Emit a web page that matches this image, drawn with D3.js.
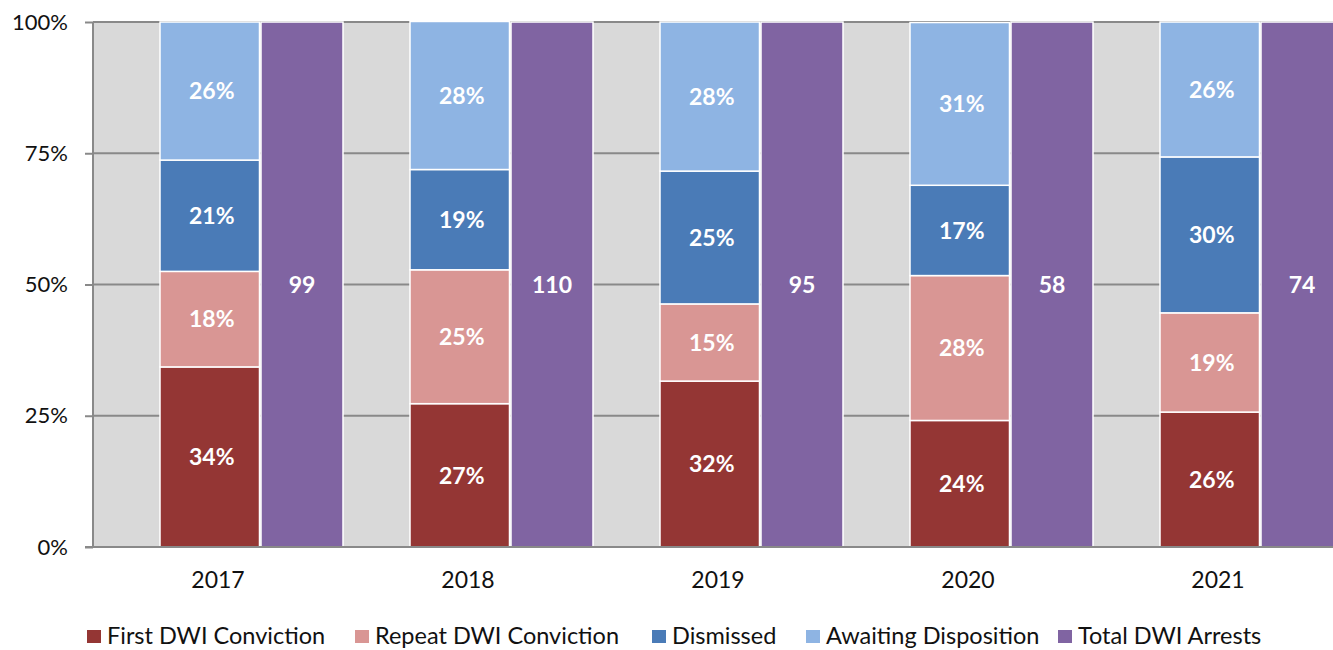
<!DOCTYPE html>
<html>
<head>
<meta charset="utf-8">
<script src="https://cdn.jsdelivr.net/npm/d3@7"></script>
<style>
  body { margin: 0; background: #fff; }
  text { font-family: Lato, "Open Sans", sans-serif; }
</style>
</head>
<body>
<div id="chart"></div>
<script>
const width = 1333
const height = 650
const margin = { top: 22, bottom: 103, left: 93, right: -10 }

// Datos (porcentajes)
const years = ["2017", "2018", "2019", "2020", "2021"]
const series = ["First DWI Conviction", "Repeat DWI Conviction", "Dismissed", "Awaiting Disposition"]
const firstDWI = [34.3, 27.3, 31.6, 24.1, 25.7]
const repeatDWI = [18.2, 25.5, 14.7, 27.6, 18.9]
const dismissed = [21.2, 19.1, 25.3, 17.2, 29.7]
const awaiting = [26.3, 28.2, 28.4, 31.0, 25.7]
const totalArrests = [99, 110, 95, 58, 74]
const yTicks = [0, 25, 50, 75, 100]

const colors = ["#943634", "#d99694", "#4a7bb7", "#8eb4e3"]
const totalColor = "#8064a2"
const legendNames = [...series, "Total DWI Arrests"]
const legendColors = [...colors, totalColor]

const table = years.map((y, i) => ({
  year: y,
  "First DWI Conviction": firstDWI[i],
  "Repeat DWI Conviction": repeatDWI[i],
  "Dismissed": dismissed[i],
  "Awaiting Disposition": awaiting[i],
  total: totalArrests[i]
}))

const svg = d3.select("div#chart")
  .append("svg")
  .attr("width", width)
  .attr("height", height)

const innerW = width - margin.left - margin.right
const innerH = height - margin.top - margin.bottom

const g = svg.append("g")
  .attr("transform", `translate(${margin.left}, ${margin.top})`)

// Escalas
const x = d3.scaleBand().domain(years).range([0, innerW]).padding(0)
const y = d3.scaleLinear().domain([0, 100]).range([innerH, 0])
const bw = x.bandwidth()

// Fondo gris
g.append("rect")
  .attr("width", innerW)
  .attr("height", innerH)
  .attr("fill", "#d9d9d9")

// Rejilla
g.selectAll("line.grid").data(yTicks.slice(1))
  .join("line")
  .attr("class", "grid")
  .attr("x1", 0).attr("x2", innerW)
  .attr("y1", d => y(d)).attr("y2", d => y(d))
  .attr("stroke", "#898989")
  .attr("stroke-width", 2)

// Barras apiladas
const stack = d3.stack().keys(series)(table)

const layers = g.selectAll("g.layer").data(stack)
  .join("g")
  .attr("class", "layer")
  .attr("fill", (d, i) => colors[i])

const sx = d => x(d.data.year) + bw * 0.268
const sw = bw * 0.398

layers.selectAll("rect").data(d => d)
  .join("rect")
  .attr("x", sx)
  .attr("y", d => y(d[1]))
  .attr("width", sw)
  .attr("height", d => y(d[0]) - y(d[1]))
  .attr("stroke", "#fff")
  .attr("stroke-width", 1.5)

layers.selectAll("text").data(d => d)
  .join("text")
  .attr("x", d => sx(d) + sw / 2 + 2)
  .attr("y", d => (y(d[0]) + y(d[1])) / 2)
  .attr("dy", "0.36em")
  .attr("text-anchor", "middle")
  .attr("fill", "#fff")
  .attr("font-weight", "bold")
  .attr("font-size", 23)
  .text(d => Math.round(d[1] - d[0]) + "%")

// Total de arrestos (barra completa)
const tx = d => x(d.year) + bw * 0.672
const tw = bw * 0.328

g.selectAll("rect.total").data(table)
  .join("rect")
  .attr("class", "total")
  .attr("x", tx)
  .attr("y", y(100))
  .attr("width", tw)
  .attr("height", y(0) - y(100))
  .attr("fill", totalColor)
  .attr("stroke", "#fff")
  .attr("stroke-width", 1.5)

g.selectAll("text.total").data(table)
  .join("text")
  .attr("class", "total")
  .attr("x", d => tx(d) + tw / 2)
  .attr("y", y(50))
  .attr("dy", "0.36em")
  .attr("text-anchor", "middle")
  .attr("fill", "#fff")
  .attr("font-weight", "bold")
  .attr("font-size", 23)
  .text(d => d.total)

// Ejes
const yAxis = d3.axisLeft(y).tickValues(yTicks).tickFormat(d => d + "%").tickSize(8).tickPadding(17)
const yAxisGroup = g.append("g").call(yAxis)
yAxisGroup.select(".domain").remove()
yAxisGroup.append("line")
  .attr("x1", 0).attr("x2", 0).attr("y1", 0).attr("y2", innerH)
  .attr("stroke", "#898989").attr("stroke-width", 2)
yAxisGroup.selectAll(".tick line").attr("stroke", "#898989").attr("stroke-width", 2)
yAxisGroup.selectAll(".tick text").attr("font-size", 22).attr("fill", "#111")
  .attr("font-family", "Lato, sans-serif")

const xAxis = d3.axisBottom(x).tickSize(0).tickPadding(25)
const xAxisGroup = g.append("g")
  .attr("transform", `translate(0, ${innerH})`)
  .call(xAxis)
xAxisGroup.select(".domain").remove()
xAxisGroup.append("line")
  .attr("x1", -8).attr("x2", innerW).attr("y1", 0).attr("y2", 0)
  .attr("stroke", "#898989").attr("stroke-width", 2)
xAxisGroup.selectAll(".tick text").attr("font-size", 23).attr("fill", "#111")
  .attr("font-family", "Lato, sans-serif")

// Leyenda
const legendX = [87, 355, 652, 806, 1058]
const legend = svg.append("g")
  .selectAll("g").data(legendNames)
  .join("g")
  .attr("transform", (d, i) => `translate(${legendX[i]}, 636)`)

legend.append("rect")
  .attr("x", 0).attr("y", -6)
  .attr("width", 14).attr("height", 13)
  .attr("fill", (d, i) => legendColors[i])

legend.append("text")
  .attr("x", 20)
  .attr("dy", "0.32em")
  .attr("font-size", 23.5)
  .attr("fill", "#111")
  .text(d => d)
</script>
</body>
</html>
